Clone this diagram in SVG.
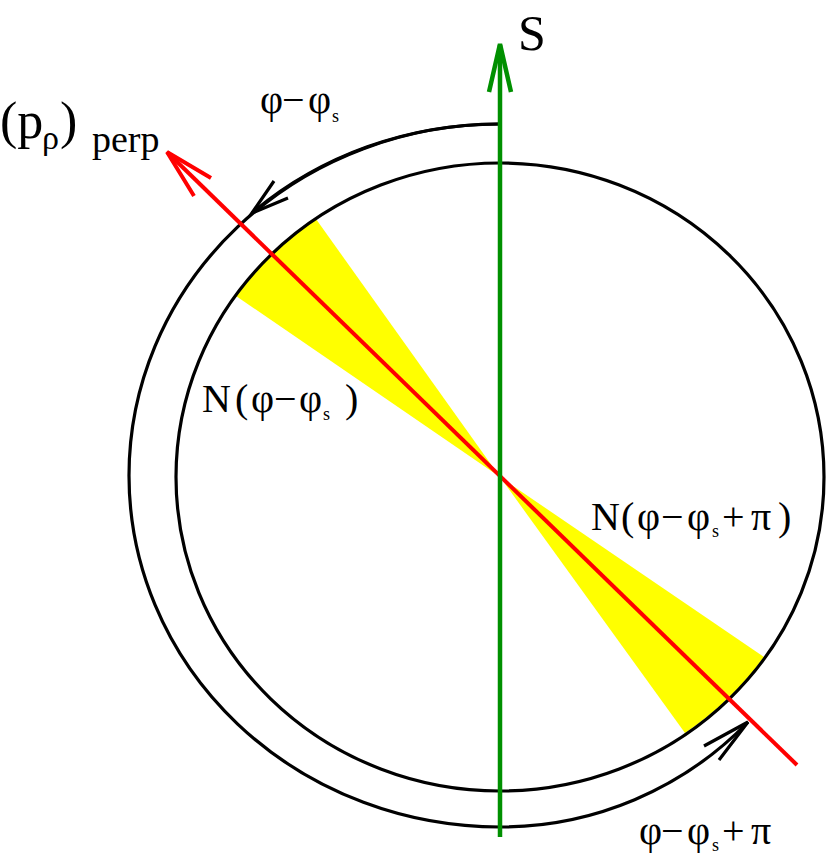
<svg xmlns="http://www.w3.org/2000/svg" width="826" height="854" viewBox="0 0 826 854">
<style>
.blk{fill:none;stroke:#000;stroke-width:3.2}
.red{fill:none;stroke:#ff0000;stroke-width:4}
.grn{fill:none;stroke:#009000;stroke-width:4.5}
.head{stroke-linejoin:miter;stroke-linecap:butt}
.wedge{fill:#ffff00;stroke:none}
.t{font-family:"Liberation Serif","Times New Roman",serif;fill:#000}
.big{font-size:40px}
.sub{font-size:18px}
</style>
<rect width="826" height="854" fill="#fff"/>
<g id="wedges">
  <path id="wedge-upper" class="wedge" d="M500,477 L316,219 A324,314 0 0,0 236,296 Z"/>
  <path id="wedge-lower" class="wedge" d="M500,477 L764,657 A324,314 0 0,1 685,733 Z"/>
</g>
<g id="inner-circle">
  <ellipse class="blk" cx="500" cy="477" rx="324" ry="314"/>
</g>
<g id="connectors">
  <path id="arc-phi" class="blk" d="M500,124 A371,351.5 0 0,0 252,213"/>
  <polyline class="blk head" points="274,181 252,213 288,198"/>
  <path id="arc-phi-pi" class="blk" d="M500,124 A371,351.5 0 0,0 500,827 A345.4,345.4 0 0,0 748,722"/>
  <polyline class="blk head" points="704,746 748,722 719,760"/>
  <line id="p-perp" class="red" x1="797" y1="765" x2="168" y2="153"/>
  <polyline class="red head" points="211,178 167,152 194,196"/>
  <line id="spin" class="grn" x1="500" y1="837" x2="500" y2="45"/>
  <polyline class="grn head" points="489,92 500,44 511,92"/>
</g>
<g id="labels">
  <text id="label-S" class="t" x="518" y="50" font-size="50">S</text>
  <text id="label-pperp" class="t"><tspan x="0" y="138" font-size="52">(p</tspan><tspan x="42" y="149" font-size="34">ρ</tspan><tspan x="60" y="138" font-size="52">)</tspan><tspan x="92" y="152" font-size="38">perp</tspan></text>
  <text id="label-phi" class="t big"><tspan x="260 282 308" y="113">φ−φ</tspan><tspan class="sub" x="332" y="122">s</tspan></text>
  <text id="label-N1" class="t big"><tspan x="202 235 251 274 299" y="412">N(φ−φ</tspan><tspan class="sub" x="323" y="420">s</tspan><tspan x="345" y="412">)</tspan></text>
  <text id="label-N2" class="t big"><tspan x="591 621 637 661 687" y="530">N(φ−φ</tspan><tspan class="sub" x="712" y="537">s</tspan><tspan x="722 751 778" y="530">+π)</tspan></text>
  <text id="label-phipi" class="t big"><tspan x="639 661 687" y="844">φ−φ</tspan><tspan class="sub" x="712" y="851">s</tspan><tspan x="722 751" y="844">+π</tspan></text>
</g>
</svg>
